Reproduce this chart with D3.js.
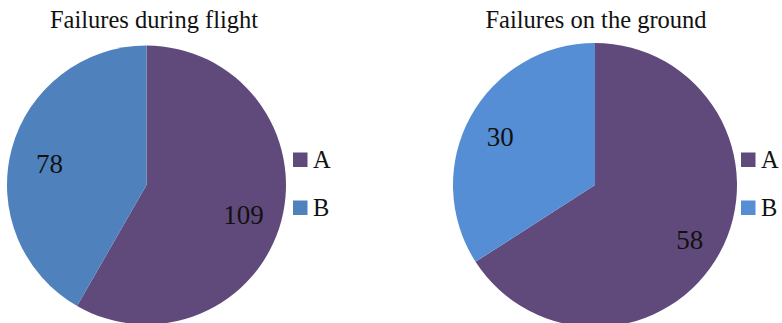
<!DOCTYPE html>
<html>
<head>
<meta charset="utf-8">
<script src="https://d3js.org/d3.v7.min.js"></script>
<style>
  body { margin: 0; background: white; }
  svg { display: block; font-family: "Liberation Serif", "Times New Roman", serif; }
</style>
</head>
<body>
<svg id="chart" width="782" height="323"></svg>
<script>
// data
const categories = ["A", "B"];
const flightValues = [109, 78];
const groundValues = [58, 30];
const titles = ["Failures during flight", "Failures on the ground"];

const svg = d3.select("#chart");

// one pie per panel
function drawPie(values, title, cfg) {
  const g = svg.append("g").attr("transform", `translate(${cfg.cx},${cfg.cy})`);
  const color = d3.scaleOrdinal().domain(categories).range(cfg.colors);

  const pie = d3.pie().sort(null).value(d => d.v);
  const arcs = pie(categories.map((c, i) => ({ c: c, v: values[i] })));

  const arc = d3.arc().innerRadius(0).outerRadius(cfg.r);
  const labelArc = d3.arc().innerRadius(cfg.r * cfg.lab).outerRadius(cfg.r * cfg.lab);

  g.selectAll("path.slice")
    .data(arcs)
    .enter()
    .append("path")
    .attr("class", "slice")
    .attr("d", arc)
    .attr("fill", d => color(d.data.c));

  g.selectAll("text.val")
    .data(arcs)
    .enter()
    .append("text")
    .attr("class", "val")
    .attr("transform", d => {
      const c = labelArc.centroid(d);
      return `translate(${c[0]},${c[1] + cfg.ldy})`;
    })
    .attr("text-anchor", "middle")
    .attr("dy", "0.35em")
    .style("font-size", "27px")
    .attr("fill", "#111")
    .text(d => d.data.v);

  svg.append("text")
    .attr("x", cfg.tx)
    .attr("y", 28)
    .attr("text-anchor", "middle")
    .style("font-size", "24.5px")
    .attr("fill", "#111")
    .text(title);

  // legend
  const leg = svg.append("g").attr("transform", `translate(${cfg.lx},${cfg.ly})`);
  const item = leg.selectAll("g")
    .data(categories)
    .enter()
    .append("g")
    .attr("transform", (d, i) => `translate(0,${i * 48})`);
  item.append("rect")
    .attr("x", 0).attr("y", -7.5)
    .attr("width", 14.5).attr("height", 14.5)
    .attr("fill", d => color(d));
  item.append("text")
    .attr("x", 20)
    .attr("y", 8)
    .style("font-size", "24.5px")
    .attr("fill", "#111")
    .text(d => d);
}

drawPie(flightValues, titles[0], {
  cx: 146.5, cy: 185, r: 139.5, lab: 0.72, ldy: 4,
  colors: ["#604a7b", "#4f81bd"],
  tx: 154, lx: 293, ly: 160
});

drawPie(groundValues, titles[1], {
  cx: 595, cy: 185, r: 142, lab: 0.76, ldy: 3,
  colors: ["#604a7b", "#558ed5"],
  tx: 596, lx: 741, ly: 160
});
</script>
</body>
</html>
